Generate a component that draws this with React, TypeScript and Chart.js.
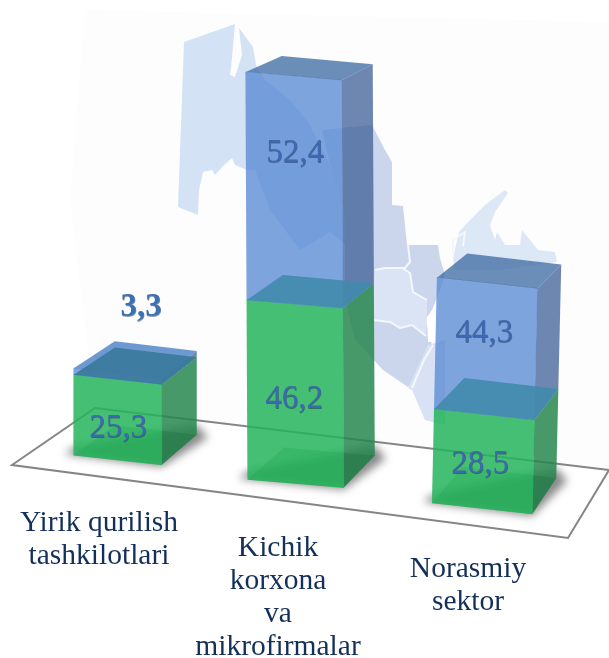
import React, { useEffect, useRef } from "react";
import { Chart, registerables } from "chart.js";

Chart.register(...registerables);

// ---- data ----
const categories = [
  ["Yirik qurilish", "tashkilotlari"],
  ["Kichik", "korxona", "va", "mikrofirmalar"],
  ["Norasmiy", "sektor"],
];
const greenValues = [25.3, 46.2, 28.5];
const blueValues = [3.3, 52.4, 44.3];

const fmt = (v: number) => v.toFixed(1).replace(".", ",");

// ---- per-column drawing calibration (the source is a perspective drawing) ----
const W = 609;
const H = 658;
const greenZero = [460, 483.5, 508.5];
const greenK = [3.18, 3.885, 3.3];
const blueK = [1.97, 4.35, 2.97];
const barW = [88, 96, 100];
const nudgeX = [0, -6.5, 0];
const shearY = [0.11, 0.085, 0.11];
const leanX = [0, 0.005, -0.022];
const depthXL = [41, 36, 30];
const depthXR = [35, 31, 24];
const depthYBottom = [-30, -32, -36];
const depthYTop = [-27, -16, -24];
const topColor = ["rgba(85,135,200,0.85)", "rgba(65,110,165,0.78)", "rgba(65,110,165,0.78)"];
const tealColor = ["rgba(58,122,156,0.92)", "rgba(66,138,172,0.92)", "rgba(66,138,172,0.92)"];
const labelGreen = [[118, 437], [294, 408], [480, 473]];
const labelBlue = [[141, 316], [295, 162], [484, 342]];
const catCenter = [99, 278, 468];
const catBaseline = [531, 556, 577];
const catLine = [33, 33, 33];

// ---- decorative backdrop ----
type P = number[][];
const planeBack: P = [[85, 10], [609, 22], [609, 470], [95, 408], [70, 200]];
const floorOutline: P = [[12, 465], [95, 408], [609, 470], [568, 538]];
const mapNW: P = [[184, 42], [235, 24], [231, 68], [230, 75], [235, 77], [242, 55], [239, 28], [253, 47], [256, 65], [265, 80], [290, 100], [310, 125], [330, 165], [345, 215], [360, 255], [330, 232], [300, 250], [270, 210], [255, 170], [247, 170], [235, 165], [232, 158], [224, 165], [215, 175], [212, 170], [203, 172], [199, 190], [198, 215], [178, 207]];
const mapMid: P = [[322, 130], [372, 125], [385, 150], [392, 162], [392, 205], [403, 206], [407, 245], [438, 245], [440, 258], [445, 275], [440, 290], [432, 310], [425, 320], [432, 340], [428, 360], [408, 387], [383, 370], [355, 340], [345, 300], [345, 215], [330, 165]];
const mapSub: P = [[375, 270], [385, 268], [402, 268], [410, 273], [413, 292], [427, 300], [427, 316], [426, 336], [412, 325], [400, 328], [390, 322], [373, 320], [372, 300]];
const mapSE: P = [[428, 345], [445, 340], [445, 425], [425, 420], [412, 390], [408, 388]];
const mapNE: P = [[453, 258], [459, 232], [470, 220], [485, 205], [505, 190], [508, 193], [495, 212], [490, 225], [495, 240], [497, 232], [505, 245], [520, 245], [522, 230], [530, 240], [538, 250], [555, 252], [557, 262], [500, 270], [455, 270]];
const mapLines: P[] = [
  [[408, 245], [410, 262], [405, 268], [402, 268]],
  [[373, 320], [390, 322], [400, 328], [412, 325], [426, 336]],
  [[375, 270], [385, 268], [402, 268], [410, 273], [413, 292], [427, 300]],
  [[453, 258], [453, 240], [465, 232], [463, 246]],
  [[433, 345], [424, 360], [412, 388]],
];
const mapHole: P = [[427, 318], [437, 316], [437, 342], [428, 342]];

const poly = (ctx: CanvasRenderingContext2D, pts: P) => {
  ctx.beginPath();
  pts.forEach((p, i) => (i ? ctx.lineTo(p[0], p[1]) : ctx.moveTo(p[0], p[1])));
  ctx.closePath();
};
const fillPoly = (ctx: CanvasRenderingContext2D, pts: P, color: string) => {
  poly(ctx, pts);
  ctx.fillStyle = color;
  ctx.fill();
};

const SERIF = '"Liberation Serif", "Times New Roman", serif';

const solidLabel = (ctx: CanvasRenderingContext2D, t: string, x: number, y: number, bold = false) => {
  ctx.font = `${bold ? "bold " : ""}33px ${SERIF}`;
  ctx.textAlign = "center";
  ctx.textBaseline = "alphabetic";
  ctx.fillStyle = "rgba(15,30,60,0.45)";
  ctx.fillText(t, x + 0.5, y + 0.5);
  ctx.fillStyle = bold ? "#3A70B4" : "#3E69B0";
  ctx.fillText(t, x, y);
};

const columnOf = (datasetIndex: number) => datasetIndex % 3;
const isBlue = (datasetIndex: number) => datasetIndex < 3;

const geo = (chart: any, c: number) => {
  const blue = chart.getDatasetMeta(c).data[c];
  const green = chart.getDatasetMeta(c + 3).data[c];
  const topY = blue.y;
  const baseY = green.base;
  const cx = green.x;
  const y0 = (topY + baseY) / 2;
  const half = barW[c] / 2;
  const map = (x: number, y: number) => [
    x + leanX[c] * (y - y0) + nudgeX[c],
    y + shearY[c] * (x - cx),
  ];
  const dyAt = (y: number) => {
    const t = (baseY - y) / (baseY - topY);
    return depthYBottom[c] + (depthYTop[c] - depthYBottom[c]) * t;
  };
  const corners = (y: number) => {
    const fl = map(cx - half, y);
    const fr = map(cx + half, y);
    const dy = dyAt(y);
    return {
      fl,
      fr,
      br: [fr[0] + depthXR[c], fr[1] + dy],
      bl: [fl[0] + depthXL[c], fl[1] + dy],
    };
  };
  return { cx, y0, corners, topY, baseY };
};

const cubePlugin = {
  id: "cube",
  beforeDatasetsDraw(chart: any) {
    const ctx: CanvasRenderingContext2D = chart.ctx;
    ctx.save();
    fillPoly(ctx, planeBack, "#FDFDFE");
    // map
    fillPoly(ctx, mapNW, "#D4E2F5");
    fillPoly(ctx, mapMid, "#CBD6EC");
    fillPoly(ctx, mapSub, "#DBE4F4");
    fillPoly(ctx, mapSE, "#D8E2F4");
    fillPoly(ctx, mapNE, "#DDE8F7");
    fillPoly(ctx, mapHole, "#FFFFFF");
    ctx.strokeStyle = "#F4F7FC";
    ctx.lineWidth = 2;
    mapLines.forEach((l) => {
      ctx.beginPath();
      l.forEach((p, i) => (i ? ctx.lineTo(p[0], p[1]) : ctx.moveTo(p[0], p[1])));
      ctx.stroke();
    });
    // floor
    poly(ctx, floorOutline);
    ctx.strokeStyle = "#858585";
    ctx.lineWidth = 2;
    ctx.stroke();
    // shadows
    categories.forEach((_, c) => {
      const g = geo(chart, c);
      const k = g.corners(g.baseY);
      ctx.save();
      ctx.filter = "blur(4px)";
      fillPoly(
        ctx,
        [
          [k.fl[0] - 9, k.fl[1] - 1],
          [k.fr[0], k.fr[1] + 2],
          [k.br[0] + 11, k.br[1] + 3],
          [k.br[0], k.br[1] - 10],
          [k.fl[0], k.fl[1] - 8],
        ],
        "rgba(40,40,40,0.55)"
      );
      ctx.restore();
    });
    ctx.restore();
  },
  beforeDatasetDraw(chart: any, args: any) {
    const ctx: CanvasRenderingContext2D = chart.ctx;
    const c = columnOf(args.index);
    const g = geo(chart, c);
    const el = chart.getDatasetMeta(args.index).data[c];
    const a = g.corners(el.y);
    const b = g.corners(el.base);
    ctx.save();
    // side face
    fillPoly(ctx, [a.fr, a.br, b.br, b.fr], isBlue(args.index) ? "rgba(60,95,150,0.75)" : "rgba(40,135,80,0.85)");
    if (!isBlue(args.index)) {
      // floor of the block seen through the glass
      fillPoly(ctx, [b.fl, b.fr, b.br, b.bl], "rgba(25,110,60,0.32)");
    }
    // the library draws the front face under this shear
    ctx.transform(1, shearY[c], leanX[c], 1, nudgeX[c] - leanX[c] * g.y0, -shearY[c] * g.cx);
  },
  afterDatasetDraw(chart: any, args: any) {
    const ctx: CanvasRenderingContext2D = chart.ctx;
    ctx.restore();
    if (isBlue(args.index)) {
      const c = columnOf(args.index);
      const g = geo(chart, c);
      const a = g.corners(chart.getDatasetMeta(args.index).data[c].y);
      fillPoly(ctx, [a.fl, a.fr, a.br, a.bl], topColor[c]);
    }
  },
  afterDatasetsDraw(chart: any) {
    const ctx: CanvasRenderingContext2D = chart.ctx;
    ctx.save();
    categories.forEach((lines, c) => {
      const g = geo(chart, c);
      const a = g.corners(chart.getDatasetMeta(c + 3).data[c].y);
      // top of the green block seen through the blue glass
      fillPoly(ctx, [a.fl, a.fr, a.br, a.bl], tealColor[c]);
      // value labels
      solidLabel(ctx, fmt(greenValues[c]), labelGreen[c][0], labelGreen[c][1]);
      solidLabel(ctx, fmt(blueValues[c]), labelBlue[c][0], labelBlue[c][1], c === 0);
      // category labels
      ctx.font = `29.5px ${SERIF}`;
      ctx.textAlign = "center";
      ctx.textBaseline = "alphabetic";
      ctx.fillStyle = "#14305A";
      lines.forEach((t, i) => ctx.fillText(t, catCenter[c], catBaseline[c] + i * catLine[c]));
    });
    ctx.restore();
  },
};

export default function App() {
  const ref = useRef<HTMLCanvasElement>(null);
  useEffect(() => {
    if (!ref.current) return;
    const only = (c: number, v: any) => categories.map((_, i) => (i === c ? v : null));
    const blueSets = categories.map((_, c) => ({
      label: `Blue ${c}`,
      data: only(c, [greenValues[c], greenValues[c] + blueValues[c]]),
      yAxisID: `b${c}`,
      backgroundColor: "rgba(88,138,212,0.78)",
      barThickness: barW[c],
      grouped: false,
      clip: false,
    }));
    const greenSets = categories.map((_, c) => ({
      label: `Green ${c}`,
      data: only(c, greenValues[c]),
      yAxisID: `g${c}`,
      backgroundColor: "rgba(35,180,90,0.85)",
      barThickness: barW[c],
      grouped: false,
      clip: false,
    }));
    const scales: any = {
      x: { display: false, offset: true },
    };
    categories.forEach((_, c) => {
      const gz = greenZero[c];
      const gk = greenK[c];
      scales[`g${c}`] = { display: false, min: (gz - H) / gk, max: gz / gk };
      const bk = blueK[c];
      const bz = gz - gk * greenValues[c] + bk * greenValues[c];
      scales[`b${c}`] = { display: false, min: (bz - H) / bk, max: bz / bk };
    });
    const chart = new Chart(ref.current, {
      type: "bar",
      data: {
        labels: categories.map((l) => l.join(" ")),
        datasets: [...blueSets, ...greenSets] as any,
      },
      options: {
        responsive: false,
        animation: false,
        layout: { padding: { left: 26, right: 32.5, top: 0, bottom: 0 } },
        plugins: { legend: { display: false }, tooltip: { enabled: false } },
        scales,
      },
      plugins: [cubePlugin],
    } as any);
    return () => chart.destroy();
  }, []);
  return (
    <canvas
      ref={ref}
      width={W}
      height={H}
      style={{ position: "absolute", left: 0, top: 0, display: "block" }}
    />
  );
}
